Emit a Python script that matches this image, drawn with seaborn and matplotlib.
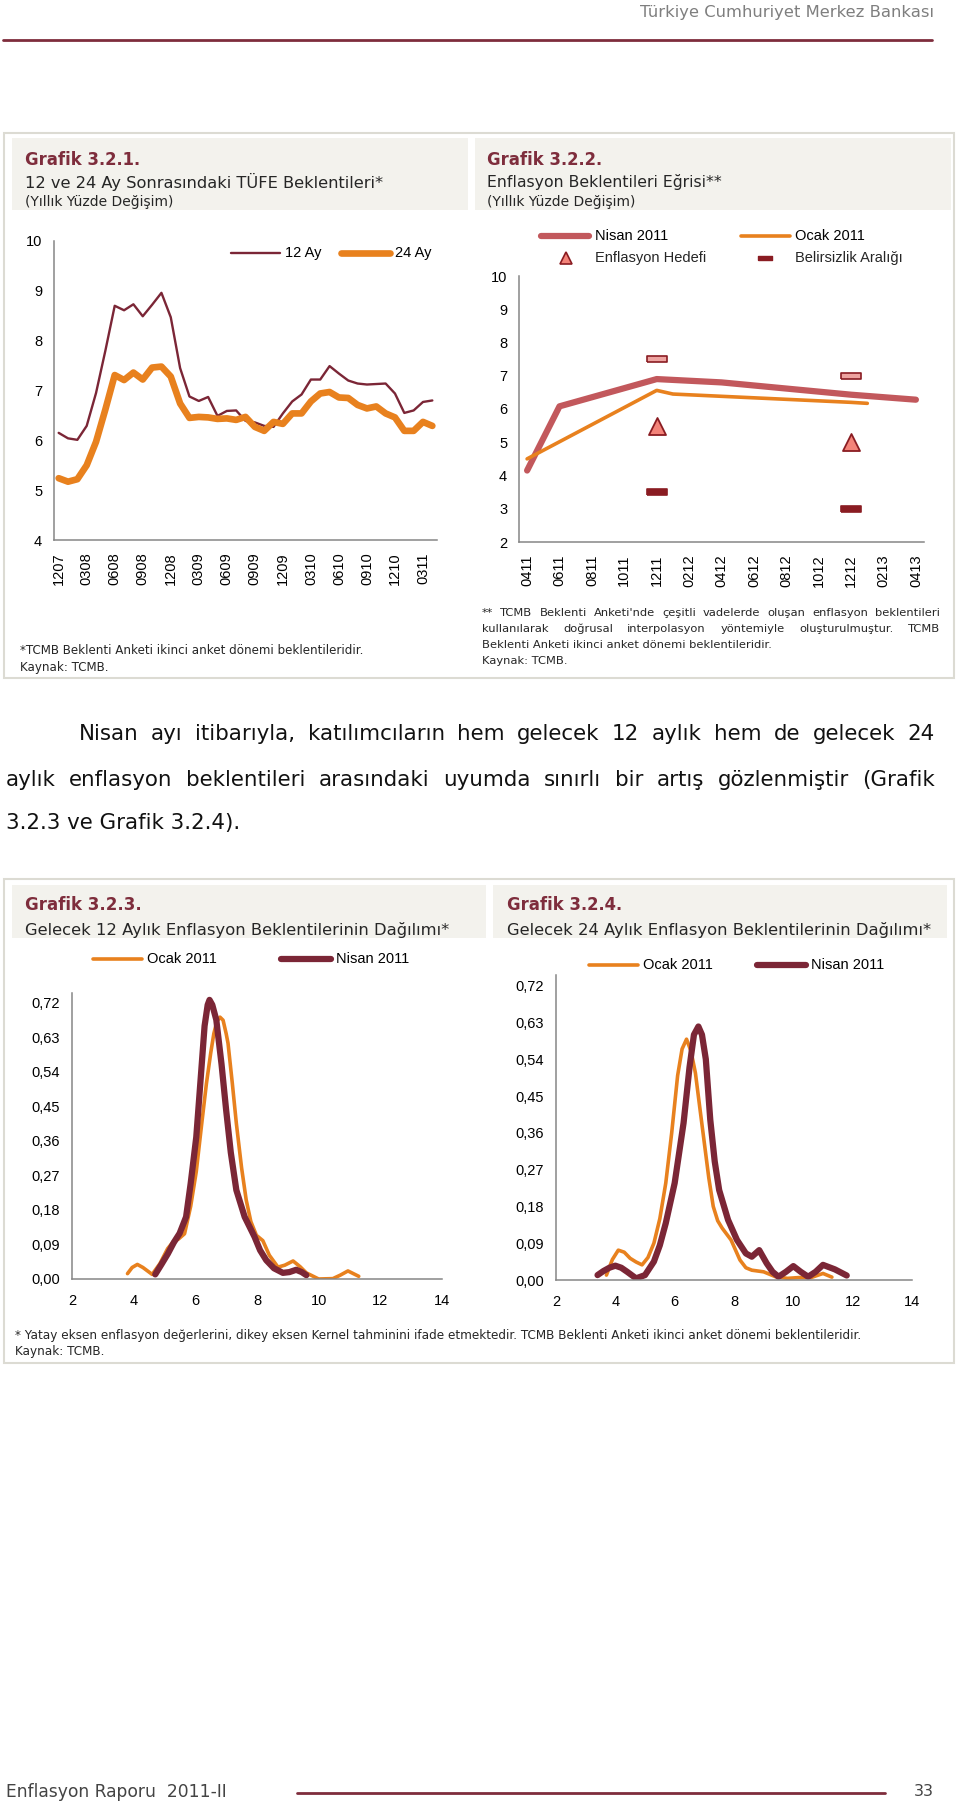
import numpy as np
import pandas as pd
import matplotlib
matplotlib.use("Agg")
import matplotlib.pyplot as plt
from matplotlib.lines import Line2D
from matplotlib.patches import Rectangle
from matplotlib.path import Path
from matplotlib.markers import MarkerStyle
import seaborn as sns

W, H = 960, 1803

# ---------------- Grafik 3.2.1 : 12 ve 24 ay sonrasi beklentiler
months_1 = ["1207", "0108", "0208", "0308", "0408", "0508", "0608", "0708", "0808", "0908",
            "1008", "1108", "1208", "0109", "0209", "0309", "0409", "0509", "0609", "0709",
            "0809", "0909", "1009", "1109", "1209", "0110", "0210", "0310", "0410", "0510",
            "0610", "0710", "0810", "0910", "1010", "1110", "1210", "0111", "0211", "0311",
            "0411"]
ticks_1 = ["1207", "0308", "0608", "0908", "1208", "0309", "0609", "0909", "1209",
           "0310", "0610", "0910", "1210", "0311"]
ay12 = [6.15, 6.04, 6.01, 6.29, 6.95, 7.80, 8.70, 8.61, 8.73, 8.49, 8.72, 8.96, 8.47,
        7.45, 6.88, 6.79, 6.87, 6.49, 6.59, 6.60, 6.39, 6.36, 6.29, 6.27, 6.54, 6.78,
        6.92, 7.22, 7.22, 7.49, 7.34, 7.20, 7.14, 7.12, 7.13, 7.14, 6.94, 6.55, 6.60,
        6.77, 6.80]
ay24 = [5.24, 5.17, 5.22, 5.50, 5.97, 6.62, 7.31, 7.21, 7.36, 7.22, 7.46, 7.48, 7.28,
        6.74, 6.45, 6.47, 6.46, 6.43, 6.44, 6.41, 6.47, 6.27, 6.19, 6.37, 6.33, 6.54,
        6.54, 6.78, 6.94, 6.97, 6.86, 6.85, 6.71, 6.64, 6.68, 6.54, 6.46, 6.19, 6.19,
        6.37, 6.29]

# ---------------- Grafik 3.2.2 : enflasyon beklentileri egrisi
months_2 = ["0411", "0511", "0611", "0711", "0811", "0911", "1011", "1111", "1211",
            "0112", "0212", "0312", "0412", "0512", "0612", "0712", "0812", "0912",
            "1012", "1112", "1212", "0113", "0213", "0313", "0413"]
ticks_2 = ["0411", "0611", "0811", "1011", "1211", "0212", "0412", "0612", "0812",
           "1012", "1212", "0213", "0413"]
nisan_m = ["0411", "0611", "1211", "0412", "1212", "0413"]
nisan_v = [4.15, 6.08, 6.90, 6.80, 6.43, 6.28]
ocak_m = ["0411", "1211", "0112", "1212", "0113"]
ocak_v = [4.50, 6.56, 6.45, 6.20, 6.17]
target_m = ["1211", "1212"]
target_v = [5.5, 5.0]
band_up = [7.5, 7.0]
band_lo = [3.5, 3.0]

# ---------------- Grafik 3.2.3 : 12 ay dagilim
d12_ocak_x = [3.8, 3.95, 4.12, 4.3, 4.6, 4.85, 5.1, 5.28, 5.45, 5.65, 5.85, 6.03, 6.2,
              6.36, 6.5, 6.6, 6.7, 6.8, 6.9, 7.0, 7.06, 7.2, 7.33, 7.5, 7.65, 7.8, 7.98,
              8.19, 8.4, 8.68, 8.9, 9.17, 9.4, 9.6, 10.0, 10.46, 10.7, 10.95, 11.3]
d12_ocak_y = [0.014, 0.03, 0.038, 0.03, 0.012, 0.04, 0.079, 0.097, 0.104, 0.118, 0.19,
              0.28, 0.4, 0.51, 0.59, 0.64, 0.672, 0.683, 0.675, 0.64, 0.615, 0.51, 0.406,
              0.29, 0.206, 0.15, 0.114, 0.10, 0.062, 0.031, 0.036, 0.047, 0.032, 0.016,
              0.0, 0.001, 0.01, 0.021, 0.007]
d12_nisan_x = [4.7, 4.9, 5.11, 5.3, 5.49, 5.7, 5.85, 6.03, 6.18, 6.3, 6.4, 6.46, 6.55,
               6.68, 6.85, 7.0, 7.15, 7.33, 7.6, 7.92, 8.1, 8.3, 8.55, 8.84, 9.05, 9.27,
               9.45, 9.6]
d12_nisan_y = [0.012, 0.038, 0.066, 0.095, 0.119, 0.162, 0.25, 0.37, 0.53, 0.66, 0.715,
               0.728, 0.715, 0.676, 0.56, 0.44, 0.33, 0.232, 0.162, 0.11, 0.075, 0.049,
               0.028, 0.016, 0.018, 0.024, 0.018, 0.01]

# ---------------- Grafik 3.2.4 : 24 ay dagilim
d24_ocak_x = [3.7, 3.9, 4.1, 4.3, 4.5, 4.7, 4.9, 5.1, 5.3, 5.5, 5.7, 5.9, 6.1, 6.25,
              6.4, 6.55, 6.7, 6.85, 7.0, 7.15, 7.3, 7.45, 7.6, 7.9, 8.2, 8.4, 8.6, 9.0,
              9.4, 9.8, 10.2, 10.6, 11.0, 11.3]
d24_ocak_y = [0.012, 0.05, 0.073, 0.068, 0.053, 0.044, 0.037, 0.055, 0.09, 0.15, 0.237,
              0.36, 0.50, 0.565, 0.589, 0.56, 0.506, 0.42, 0.335, 0.25, 0.18, 0.145,
              0.127, 0.098, 0.049, 0.03, 0.024, 0.02, 0.008, 0.004, 0.006, 0.006, 0.016,
              0.007]
d24_nisan_x = [3.4, 3.6, 3.8, 4.0, 4.2, 4.4, 4.7, 5.0, 5.3, 5.5, 5.7, 6.0, 6.3, 6.5,
               6.65, 6.8, 6.92, 7.05, 7.2, 7.35, 7.5, 7.8, 8.1, 8.4, 8.6, 8.85, 9.1, 9.3,
               9.5, 9.75, 10.0, 10.25, 10.5, 10.75, 11.0, 11.4, 11.8]
d24_nisan_y = [0.012, 0.022, 0.03, 0.035, 0.03, 0.02, 0.004, 0.012, 0.045, 0.085,
               0.139, 0.237, 0.384, 0.52, 0.6, 0.62, 0.6, 0.54, 0.392, 0.29, 0.22, 0.147,
               0.098, 0.065, 0.057, 0.073, 0.041, 0.02, 0.008, 0.02, 0.034, 0.02, 0.008,
               0.02, 0.037, 0.026, 0.011]
dens_ticks = [0, 0.09, 0.18, 0.27, 0.36, 0.45, 0.54, 0.63, 0.72]

MAROON = "#7B2636"
ORANGE = "#E8811E"
ROSE = "#C2585C"
DARKRED = "#8A1C22"
TITLE = "#7E2D3C"
BAND = "#F3F2ED"
EDGE = "#DCDBD3"
AXC = "#868686"
TXT = "#262626"

sns.set_style("white")
plt.rcParams["font.family"] = ["Liberation Sans", "DejaVu Sans"]
DOC = ["DejaVu Sans"]

fig = plt.figure(figsize=(9.6, 18.03), dpi=100)
fig.patch.set_facecolor("white")
rend = fig.canvas.get_renderer()


def fx(x):
    return x / W


def fy(y):
    return 1 - y / H


def add_ax(x0, y0, x1, y1):
    return fig.add_axes([fx(x0), fy(y1), (x1 - x0) / W, (y1 - y0) / H])


def rect(x0, y0, x1, y1, fc, ec="none", lw=0, z=-2):
    fig.add_artist(Rectangle((fx(x0), fy(y1)), (x1 - x0) / W, (y1 - y0) / H,
                             transform=fig.transFigure, fc=fc, ec=ec, lw=lw, zorder=z))


def width_of(s, size, family, weight="normal"):
    t = fig.text(0, 0, s, fontsize=size, family=family, weight=weight)
    w = t.get_window_extent(renderer=rend).width
    t.remove()
    return w


def put(x, y, s, width, size=10, family=DOC, weight="normal", color=TXT, ha="left"):
    # scale the font so the string fills the measured width of the original
    sz = size * width / width_of(s, size, family, weight)
    fig.text(fx(x), fy(y), s, fontsize=sz, family=family, weight=weight,
             color=color, ha=ha, va="center")
    return sz


def justify(x0, x1, y, s, size, color=TXT):
    words = s.split(" ")
    widths = [width_of(w_, size, DOC) for w_ in words]
    gap = (x1 - x0 - sum(widths)) / (len(words) - 1)
    x = x0
    for w_, wd in zip(words, widths):
        fig.text(fx(x), fy(y), w_, fontsize=size, family=DOC, color=color, va="center")
        x += wd + gap


def legend_line(x0, x1, y, color, lw, label, tx):
    fig.add_artist(Line2D([fx(x0), fx(x1)], [fy(y), fy(y)], color=color, lw=lw,
                          solid_capstyle="round", transform=fig.transFigure))
    fig.text(fx(tx), fy(y), label, fontsize=10.5, color="black", va="center")


def style_ax(ax):
    sns.despine(ax=ax)
    for sp in ["left", "bottom"]:
        ax.spines[sp].set_color(AXC)
        ax.spines[sp].set_linewidth(1.1)
    ax.tick_params(which="both", colors=AXC, labelcolor="black", labelsize=10.5,
                   direction="out", length=5, width=1.1)
    ax.set_facecolor("none")
    ax.set_xlabel("")
    ax.set_ylabel("")


def category_axis(ax, months, ticks):
    pos = [months.index(m) for m in ticks]
    ax.set_xticks([p - 0.5 for p in pos])
    ax.set_xticklabels([])
    ax.set_xticks(pos, labels=ticks, minor=True)
    ax.tick_params(axis="x", which="minor", length=0, rotation=90, pad=9)
    ax.set_xlim(-0.5, len(months) - 0.5)


# ---------------- page frame
put(934, 13, "Türkiye Cumhuriyet Merkez Bankası", 294, color="#7F7F7F", ha="right")
fig.add_artist(Line2D([fx(3), fx(932)], [fy(40), fy(40)], color=TITLE, lw=2,
                      transform=fig.transFigure))

rect(4, 133, 954, 678, "white", EDGE, 1.5, z=-3)
rect(12, 138, 468, 210, BAND)
rect(475, 138, 951, 210, BAND)
put(25, 160, "Grafik 3.2.1.", 116, weight="bold", color=TITLE)
put(25, 182, "12 ve 24 Ay Sonrasındaki TÜFE Beklentileri*", 358)
put(25, 202, "(Yıllık Yüzde Değişim)", 148)
put(487, 160, "Grafik 3.2.2.", 116, weight="bold", color=TITLE)
put(487, 182, "Enflasyon Beklentileri Eğrisi**", 236)
put(487, 202, "(Yıllık Yüzde Değişim)", 148)

rect(4, 879, 954, 1363, "white", EDGE, 1.5, z=-3)
rect(12, 885, 486, 938, BAND)
rect(493, 885, 947, 938, BAND)
put(25, 905, "Grafik 3.2.3.", 116, weight="bold", color=TITLE)
put(25, 930, "Gelecek 12 Aylık Enflasyon Beklentilerinin Dağılımı*", 425)
put(507, 905, "Grafik 3.2.4.", 116, weight="bold", color=TITLE)
put(507, 930, "Gelecek 24 Aylık Enflasyon Beklentilerinin Dağılımı*", 425)

# ---------------- Grafik 3.2.1
ax1 = add_ax(54, 241, 437, 540)
pos1 = list(range(len(months_1)))
sns.lineplot(x=pos1, y=ay12, color=MAROON, lw=1.7, ax=ax1)
sns.lineplot(x=pos1, y=ay24, color=ORANGE, lw=4.8, solid_joinstyle="round", ax=ax1)
ax1.set_ylim(4, 10)
ax1.set_yticks(range(4, 11))
style_ax(ax1)
category_axis(ax1, months_1, ticks_1)
legend_line(231, 280, 253, MAROON, 1.7, "12 Ay", 285)
legend_line(341, 390, 253, ORANGE, 4.8, "24 Ay", 395)

# ---------------- Grafik 3.2.2
ax2 = add_ax(519, 276, 924, 542)
sns.lineplot(x=[months_2.index(m) for m in nisan_m], y=nisan_v, color=ROSE, lw=4.5,
             solid_capstyle="round", solid_joinstyle="round", ax=ax2)
sns.lineplot(x=[months_2.index(m) for m in ocak_m], y=ocak_v, color=ORANGE, lw=2.6,
             solid_capstyle="round", solid_joinstyle="round", ax=ax2)
tpos = [months_2.index(m) for m in target_m]
dash = MarkerStyle(Path([(-1, -0.28), (1, -0.28), (1, 0.28), (-1, 0.28), (-1, -0.28)]))
sns.scatterplot(x=tpos, y=target_v, marker="^", s=150, color="#F38379",
                edgecolor=DARKRED, linewidth=1.3, ax=ax2, zorder=5)
sns.scatterplot(x=tpos, y=band_up, marker=dash, s=190, color="#EDA3A0",
                edgecolor=DARKRED, linewidth=1.2, ax=ax2, zorder=5)
sns.scatterplot(x=tpos, y=band_lo, marker=dash, s=190, color=DARKRED,
                edgecolor=DARKRED, linewidth=1.2, ax=ax2, zorder=5)
ax2.set_ylim(2, 10)
ax2.set_yticks(range(2, 11))
style_ax(ax2)
category_axis(ax2, months_2, ticks_2)
legend_line(541, 589, 236, ROSE, 4.5, "Nisan 2011", 595)
legend_line(741, 790, 236, ORANGE, 2.6, "Ocak 2011", 795)
fig.add_artist(Line2D([fx(566)], [fy(258)], marker="^", ms=8, mfc="#F38379",
                      mec=DARKRED, mew=1.2, ls="none", transform=fig.transFigure))
fig.text(fx(595), fy(258), "Enflasyon Hedefi", fontsize=10.5, va="center")
fig.add_artist(Line2D([fx(765)], [fy(258)], marker=dash, ms=10, mfc=DARKRED,
                      mec=DARKRED, ls="none", transform=fig.transFigure))
fig.text(fx(795), fy(258), "Belirsizlik Aralığı", fontsize=10.5, va="center")

# ---------------- footnotes of the top panel
fsz = 10 * 341 / width_of("*TCMB Beklenti Anketi ikinci anket dönemi beklentileridir.", 10, DOC)
fig.text(fx(20), fy(651), "*TCMB Beklenti Anketi ikinci anket dönemi beklentileridir.",
         fontsize=fsz, family=DOC, color=TXT, va="center")
fig.text(fx(20), fy(667), "Kaynak: TCMB.", fontsize=fsz, family=DOC, color=TXT, va="center")
rsz = 10 * 288 / width_of("Beklenti Anketi ikinci anket dönemi beklentileridir.", 10, DOC)
justify(482, 940, 613, "** TCMB Beklenti Anketi'nde çeşitli vadelerde oluşan enflasyon beklentileri", rsz)
justify(482, 940, 629, "kullanılarak doğrusal interpolasyon yöntemiyle oluşturulmuştur. TCMB", rsz)
fig.text(fx(482), fy(645), "Beklenti Anketi ikinci anket dönemi beklentileridir.",
         fontsize=rsz, family=DOC, color=TXT, va="center")
fig.text(fx(482), fy(661), "Kaynak: TCMB.", fontsize=rsz, family=DOC, color=TXT, va="center")

# ---------------- body paragraph
bsz = 14 * 236 / width_of("3.2.3 ve Grafik 3.2.4).", 14, DOC)
justify(79, 935, 734, "Nisan ayı itibarıyla, katılımcıların hem gelecek 12 aylık hem de gelecek 24", bsz, "#111111")
justify(6, 935, 780, "aylık enflasyon beklentileri arasındaki uyumda sınırlı bir artış gözlenmiştir (Grafik", bsz, "#111111")
fig.text(fx(6), fy(823), "3.2.3 ve Grafik 3.2.4).", fontsize=bsz, family=DOC,
         color="#111111", va="center")

# ---------------- Grafik 3.2.3 and 3.2.4
dens_lab = [f"{v:.2f}".replace(".", ",") for v in dens_ticks]
for box, ox, oy, nx, ny, leg in [
        ((72, 993, 442, 1279), d12_ocak_x, d12_ocak_y, d12_nisan_x, d12_nisan_y,
         (93, 142, 147, 281, 331, 336, 959)),
        ((556, 975, 912, 1280), d24_ocak_x, d24_ocak_y, d24_nisan_x, d24_nisan_y,
         (589, 638, 643, 757, 806, 811, 965))]:
    ax = add_ax(*box)
    sns.lineplot(x=ox, y=oy, color=ORANGE, lw=2.6, solid_joinstyle="round", ax=ax)
    sns.lineplot(x=nx, y=ny, color=MAROON, lw=4.5, solid_joinstyle="round",
                 solid_capstyle="round", ax=ax)
    ax.set_xlim(2, 14)
    ax.set_ylim(0, 0.746)
    ax.set_xticks(range(2, 15, 2))
    ax.set_yticks(dens_ticks, labels=dens_lab)
    style_ax(ax)
    ax.tick_params(axis="x", pad=6)
    legend_line(leg[0], leg[1], leg[6], ORANGE, 2.6, "Ocak 2011", leg[2])
    legend_line(leg[3], leg[4], leg[6], MAROON, 4.5, "Nisan 2011", leg[5])

nsz = 10 * 845 / width_of("* Yatay eksen enflasyon değerlerini, dikey eksen Kernel tahminini ifade etmektedir. TCMB Beklenti Anketi ikinci anket dönemi beklentileridir.", 10, DOC)
fig.text(fx(15), fy(1335), "* Yatay eksen enflasyon değerlerini, dikey eksen Kernel tahminini ifade etmektedir. TCMB Beklenti Anketi ikinci anket dönemi beklentileridir.",
         fontsize=nsz, family=DOC, color=TXT, va="center")
fig.text(fx(15), fy(1352), "Kaynak: TCMB.", fontsize=nsz, family=DOC, color=TXT, va="center")

# ---------------- footer
put(6, 1792, "Enflasyon Raporu  2011-II", 221, color="#444444")
fig.add_artist(Line2D([fx(297), fx(885)], [fy(1793), fy(1793)], color=TITLE, lw=2,
                      transform=fig.transFigure))
put(934, 1792, "33", 20, color="#444444", ha="right")

fig.savefig("out.png", dpi=100, facecolor="white")
